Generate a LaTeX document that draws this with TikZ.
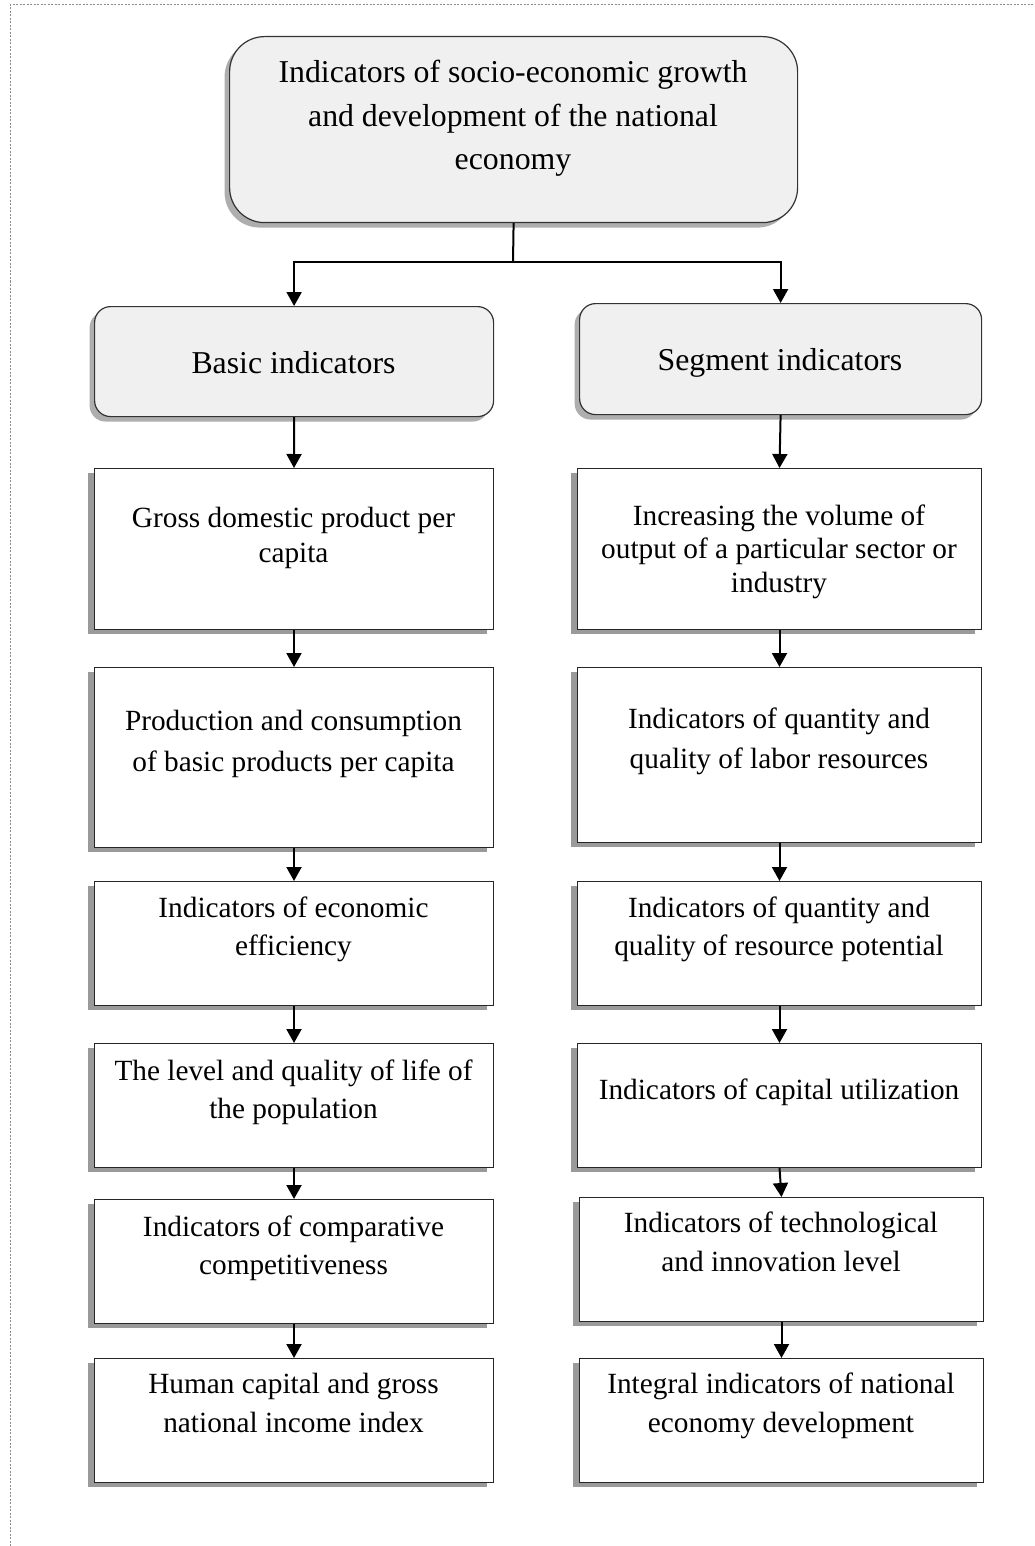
\documentclass[tikz,border=0pt]{standalone}
\usepackage{fontspec}
\setmainfont{Liberation Serif}
\usetikzlibrary{arrows.meta,shadows,calc}
\definecolor{boxgray}{HTML}{F0F0F0}
\definecolor{shadowgray}{HTML}{9A9A9A}
\newcommand\mkbox[6]{\node[#1, anchor=north west, minimum width={#4-#2}, minimum height={#5-#3}] (#6) at (#2,#3) {};}
\newcommand\tlines[1]{\begin{tabular}[t]{@{}c@{}}#1\end{tabular}}
\begin{document}
\begin{tikzpicture}[x=1pt,y=-1pt,
  rbox/.style={draw=black!80, line width=1.2pt, fill=boxgray, inner sep=0pt,
    general shadow={fill=shadowgray!80, shadow xshift=-5pt, shadow yshift=-5pt}},
  pbox/.style={draw=black!85, line width=1pt, fill=white, inner sep=0pt,
    general shadow={fill=shadowgray, shadow xshift=-7pt, shadow yshift=-4pt}},
  txt/.style={anchor=base, inner sep=0pt},
  conn/.style={line width=2pt},
  arr/.style={line width=2pt, -{Triangle[width=15pt,length=14pt]}},
  frame/.style={draw=gray!90, line width=1pt, dash pattern=on 2pt off 1.5pt}
]
\useasboundingbox (0,0) rectangle (1035,1546);
\draw[frame] (10,1546) -- (10,5) -- (1035,5);

% rounded header boxes
\mkbox{rbox, rounded corners=35pt}{229}{36}{797}{222}{top}
\mkbox{rbox, rounded corners=16pt}{94}{306}{493}{416}{basic}
\mkbox{rbox, rounded corners=16pt}{579}{303}{981}{414}{seg}

% left column
\mkbox{pbox}{94}{468}{493}{629}{g1}
\mkbox{pbox}{94}{667}{493}{847}{g2}
\mkbox{pbox}{94}{881}{493}{1005}{g3}
\mkbox{pbox}{94}{1043}{493}{1167}{g4}
\mkbox{pbox}{94}{1199}{493}{1323}{g5}
\mkbox{pbox}{94}{1358}{493}{1482}{g6}

% right column
\mkbox{pbox}{577}{468}{981}{629}{s1}
\mkbox{pbox}{577}{667}{981}{842}{s2}
\mkbox{pbox}{577}{881}{981}{1005}{s3}
\mkbox{pbox}{577}{1043}{981}{1167}{s4}
\mkbox{pbox}{579}{1197}{983}{1321}{s5}
\mkbox{pbox}{579}{1358}{983}{1482}{s6}

% texts
\node[txt, font=\fontsize{31.8}{43.5}\selectfont] (ttop) at (513,83) {\tlines{Indicators of socio-economic growth\\and development of the national\\economy}};
\node[txt, font=\fontsize{31.8}{38}\selectfont] (tbasic) at (293.5,373) {Basic indicators};
\node[txt, font=\fontsize{31.8}{38}\selectfont] (tseg) at (780,370) {Segment indicators};

\node[txt, font=\fontsize{29.3}{35}\selectfont] (tg1) at (293.5,527) {\tlines{Gross domestic product per\\capita}};
\node[txt, font=\fontsize{29.3}{41}\selectfont] (tg2) at (293.5,730) {\tlines{Production and consumption\\of basic products per capita}};
\node[txt, font=\fontsize{29.3}{38}\selectfont] (tg3) at (293.5,917) {\tlines{Indicators of economic\\efficiency}};
\node[txt, font=\fontsize{29.3}{38}\selectfont] (tg4) at (293.5,1080) {\tlines{The level and quality of life of\\the population}};
\node[txt, font=\fontsize{29.3}{38}\selectfont] (tg5) at (293.5,1236) {\tlines{Indicators of comparative\\competitiveness}};
\node[txt, font=\fontsize{29.3}{39}\selectfont] (tg6) at (293.5,1393) {\tlines{Human capital and gross\\national income index}};

\node[txt, font=\fontsize{29.3}{33.5}\selectfont] (ts1) at (779,525) {\tlines{Increasing the volume of\\output of a particular sector or\\industry}};
\node[txt, font=\fontsize{29.3}{40}\selectfont] (ts2) at (779,728) {\tlines{Indicators of quantity and\\quality of labor resources}};
\node[txt, font=\fontsize{29.3}{38}\selectfont] (ts3) at (779,917) {\tlines{Indicators of quantity and\\quality of resource potential}};
\node[txt, font=\fontsize{29.3}{38}\selectfont] (ts4) at (779,1099) {Indicators of capital utilization};
\node[txt, font=\fontsize{29.3}{39}\selectfont] (ts5) at (781,1232) {\tlines{Indicators of technological\\and innovation level}};
\node[txt, font=\fontsize{29.3}{39}\selectfont] (ts6) at (781,1393) {\tlines{Integral indicators of national\\economy development}};

% connectors
\coordinate (j) at (513,262);
\draw[conn] (top.south) -- (j);
\draw[arr] (j) -| (basic.north);
\draw[arr] (j) -| (seg.north);

\draw[arr] (basic.south) -- (g1.north);
\draw[arr] (g1.south) -- (g2.north);
\draw[arr] (g2.south) -- (g3.north);
\draw[arr] (g3.south) -- (g4.north);
\draw[arr] (g4.south) -- (g5.north);
\draw[arr] (g5.south) -- (g6.north);

\draw[arr] (seg.south) -- (s1.north);
\draw[arr] (s1.south) -- (s2.north);
\draw[arr] (s2.south) -- (s3.north);
\draw[arr] (s3.south) -- (s4.north);
\draw[arr] (s4.south) -- (s5.north);
\draw[arr] (s5.south) -- (s6.north);
\end{tikzpicture}
\end{document}
